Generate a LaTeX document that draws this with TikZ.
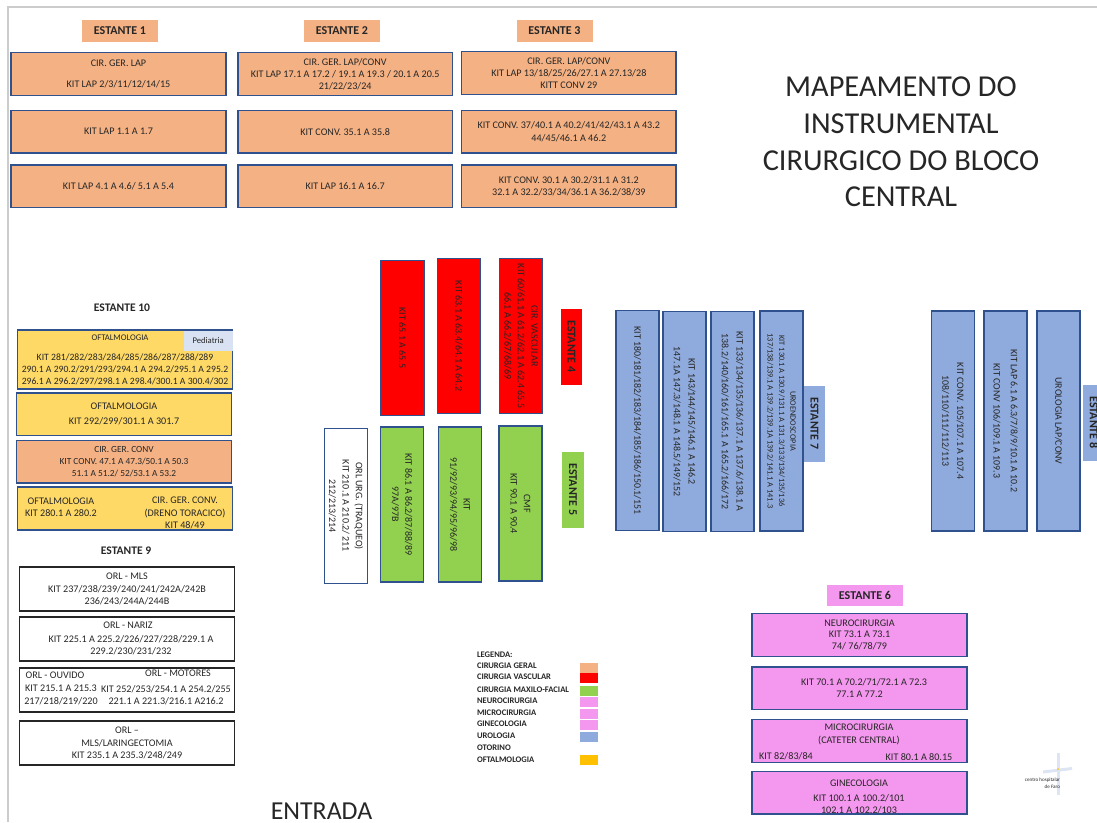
\documentclass[tikz,border=0pt]{standalone}
\usepackage{fontspec}
\setmainfont{Carlito}
\usetikzlibrary{positioning}
\definecolor{cirgeral}{HTML}{F4B183}
\definecolor{oftalmo}{HTML}{FFD966}
\definecolor{cirvasc}{HTML}{FF0000}
\definecolor{cirmax}{HTML}{92D050}
\definecolor{neuro}{HTML}{F497EE}
\definecolor{uro}{HTML}{8FAADC}
\definecolor{oftleg}{HTML}{FFC000}
\definecolor{pedia}{HTML}{D9E2F3}
\definecolor{borda}{HTML}{2F528F}

\begin{document}
\begin{tikzpicture}[
  x=0.75pt,y=-0.75pt,
  every node/.style={font=\fontsize{7.6}{9.2}\selectfont,text=black!85,align=center,inner sep=0pt,outer sep=0pt},
  shelf/.style={draw=borda,line width=1.1pt,minimum width=161pt,minimum height=32pt},
  shelfk/.style={shelf,draw=black!85,minimum height=33pt},
  vshelf/.style={draw=borda,line width=1.1pt,rotate=-90,minimum width=116pt,minimum height=32.5pt,font=\fontsize{7.5}{10}\selectfont},
  ublue/.style={vshelf,fill=uro,minimum width=165pt,font=\fontsize{7.4}{11}\selectfont},
  tag/.style={font=\bfseries\fontsize{9}{10}\selectfont,minimum width=57pt,minimum height=16pt},
  vtag/.style={tag,rotate=-90},
  titlebold/.style={font=\bfseries\fontsize{8.7}{10}\selectfont},
  swatch/.style={minimum width=13pt,minimum height=7.5pt},
  legtxt/.style={anchor=west,font=\bfseries\fontsize{6.4}{7}\selectfont}
]

\clip (0,0) rectangle (1097,822);

% ============================================================
% page frame
% ============================================================

\draw[black!20,line width=1pt] (8,822) -- (8,7) -- (1097,7);

% ============================================================
% TOP: Estantes 1, 2 and 3
% ============================================================

\node[tag,fill=cirgeral] (E1) at (120,31) {ESTANTE 1};
\node[tag,fill=cirgeral] (E2) at (342,31) {ESTANTE 2};
\node[tag,fill=cirgeral] (E3) at (554.5,31) {ESTANTE 3};

\node[shelf,fill=cirgeral] (E1a) at (118.5,74) {CIR. GER. LAP\\[6pt]KIT LAP 2/3/11/12/14/15};
\node[shelf,fill=cirgeral,below=11.25pt of E1a] (E1b) {KIT LAP 1.1 A 1.7};
\node[shelf,fill=cirgeral,below=9pt of E1b] (E1c) {KIT LAP 4.1 A 4.6/ 5.1 A 5.4};

\node[shelf,fill=cirgeral,right=9pt of E1a] (E2a) {CIR. GER. LAP/CONV\\KIT LAP 17.1 A 17.2 / 19.1 A 19.3 / 20.1 A 20.5\\21/22/23/24};
\node[shelf,fill=cirgeral,below=11.25pt of E2a] (E2b) {KIT CONV. 35.1 A 35.8};
\node[shelf,fill=cirgeral,below=9pt of E2b] (E2c) {KIT LAP 16.1 A 16.7};

\node[shelf,fill=cirgeral,right=6.75pt of E2a,yshift=0.75pt] (E3a) {CIR. GER. LAP/CONV\\KIT LAP 13/18/25/26/27.1 A 27.13/28\\KITT CONV 29};
\node[shelf,fill=cirgeral,right=6.75pt of E2b] (E3b) {KIT CONV. 37/40.1 A 40.2/41/42/43.1 A 43.2\\44/45/46.1 A 46.2};
\node[shelf,fill=cirgeral,right=6.75pt of E2c] (E3c) {KIT CONV. 30.1 A 30.2/31.1 A 31.2\\32.1 A 32.2/33/34/36.1 A 36.2/38/39};

% title
\node[font=\fontsize{22.8}{27.5}\selectfont] (titulo) at (901,142) {MAPEAMENTO DO\\INSTRUMENTAL\\CIRURGICO DO BLOCO\\CENTRAL};

% ============================================================
% LEFT: Estante 10
% ============================================================

\node[titlebold] (E10) at (122,308) {ESTANTE 10};

\node[shelf,fill=oftalmo,minimum height=44pt] (E10a) at (125,359.5) {};
\node[fill=pedia,minimum width=36.5pt,minimum height=15.5pt,anchor=north east,font=\fontsize{6.5}{8}\selectfont] (pedia) at (232.5,330.5) {Pediatria};
\node[font=\fontsize{6.5}{8}\selectfont] (E10at) at (120,338) {OFTALMOLOGIA};
\node[font=\fontsize{7.25}{9}\selectfont] (E10ak) at (125,369) {KIT 281/282/283/284/285/286/287/288/289\\290.1 A 290.2/291/293/294.1 A 294.2/295.1 A 295.2\\296.1 A 296.2/297/298.1 A 298.4/300.1 A 300.4/302};

\node[shelf,fill=oftalmo,below=3pt of E10a,xshift=-0.75pt] (E10b) {OFTALMOLOGIA\\[2pt]KIT 292/299/301.1 A 301.7};
\node[shelf,fill=cirgeral,below=3.75pt of E10b,font=\fontsize{7}{9.2}\selectfont] (E10c) {CIR. GER. CONV\\KIT CONV. 47.1 A 47.3/50.1 A 50.3\\51.1 A 51.2/ 52/53.1 A 53.2};
\node[shelf,fill=oftalmo,below=3pt of E10c,xshift=0.75pt] (E10d) {};
\node (E10dl) at (61,507.5) {OFTALMOLOGIA\\KIT 280.1 A 280.2};
\node (E10dr) at (185,513) {CIR. GER. CONV.\\(DRENO TORACICO)\\KIT 48/49};

% ============================================================
% LEFT: Estante 9
% ============================================================

\node[titlebold] (E9) at (126,551) {ESTANTE 9};

\node[shelfk] (E9a) at (127,589) {ORL - MLS\\KIT 237/238/239/240/241/242A/242B\\236/243/244A/244B};
\node[shelfk,below=4.5pt of E9a] (E9b) {};
\node (E9bt) at (128,625) {ORL - NARIZ};
\node (E9bk) at (131,645.5) {KIT 225.1 A 225.2/226/227/228/229.1 A\\229.2/230/231/232};
\node[shelfk,below=5.25pt of E9b] (E9c) {};
\node (E9ct1) at (55,675) {ORL - OUVIDO};
\node (E9ct2) at (178,673) {ORL - MOTORES};
\node (E9ck1) at (61,695) {KIT 215.1 A 215.3\\217/218/219/220};
\node (E9ck2) at (166,695) {KIT 252/253/254.1 A 254.2/255\\221.1 A 221.3/216.1 A216.2};
\node[shelfk,below=6.75pt of E9c] (E9d) {ORL --\\MLS/LARINGECTOMIA\\KIT 235.1 A 235.3/248/249};

% ============================================================
% CENTER: Estantes 4 and 5
% ============================================================

\node[vshelf,fill=cirvasc] (E4a) at (402.5,338) {KIT 65.1 A 65.5};
\node[vshelf,fill=cirvasc] (E4b) at (459,336) {KIT 63.1 A 63.4/64.1 A 64.2};
\node[vshelf,fill=cirvasc] (E4c) at (521,336) {CIR. VASCULAR\\KIT 60/61.1 A 61.2/62.1 A 62.4 65.5\\66.1 A 66.2/67/68/69};
\node[vtag,fill=cirvasc] (E4) at (571.5,346.5) {ESTANTE 4};

\node[vshelf,fill=cirmax] (E5a) at (402,504.5) {KIT 86.1 A 86.2/87/88/89\\97A/97B};
\node[vshelf,fill=cirmax] (E5b) at (460,504.5) {KIT\\91/92/93/94/95/96/98};
\node[vshelf,fill=cirmax] (E5c) at (520.5,503.5) {CMF\\KIT 90.1 A 90.4};
\node[vtag,fill=cirmax] (E5) at (573,489.5) {ESTANTE 5};

\node[vshelf,fill=white] (orl) at (346,506) {ORL URG. (TRAQUEO)\\KIT 210.1 A 210.2/ 211\\212/213/214};

% ============================================================
% RIGHT: Estantes 7 and 8
% ============================================================

\node[ublue] (E7a) at (637.5,420.5) {KIT 180/181/182/183/184/185/186/150.1/151};
\node[ublue] (E7b) at (684.5,421.5) {KIT 143/144/145/146.1 A 146.2\\147.1A 147.3/148.1 A 148.5/149/152};
\node[ublue] (E7c) at (732.5,421.5) {KIT 133/134/135/136/137.1 A 137.6/138.1 A\\138.2/140/160/161/165.1 A 165.2/166/172};
\node[ublue,font=\fontsize{6.2}{8.6}\selectfont] (E7d) at (781.5,421) {UROENDOSCOPIA\\KIT 130.1 A 130.9/131.1 A 131.3/133/134/135/136\\137/138/139.1 A 139.2/139.1A 139.2/141.1 A 141.3};
\node[vtag,fill=uro] (E7) at (814.5,423.5) {ESTANTE 7};

\node[ublue] (E8a) at (953,421) {KIT CONV. 105/107.1 A 107.4\\108/110/111/112/113};
\node[ublue] (E8b) at (1005.5,421) {KIT LAP 6.1 A 6.3/7/8/9/10.1 A 10.2\\[2pt]KIT CONV 106/109.1 A 109.3};
\node[ublue] (E8c) at (1058.5,421) {UROLOGIA LAP/CONV};
\node[vtag,fill=uro] (E8) at (1094,422.5) {ESTANTE 8};

% ============================================================
% LEGEND
% ============================================================

\node[legtxt] (leg0) at (477,655) {LEGENDA:};
\node[legtxt] (leg1) at (477,665.5) {CIRURGIA GERAL};
\node[legtxt] (leg2) at (477,677) {CIRURGIA VASCULAR};
\node[legtxt] (leg3) at (477,690) {CIRURGIA MAXILO-FACIAL};
\node[legtxt] (leg4) at (477,701) {NEUROCIRURGIA};
\node[legtxt] (leg5) at (477,712.5) {MICROCIRURGIA};
\node[legtxt] (leg6) at (477,724) {GINECOLOGIA};
\node[legtxt] (leg7) at (477,736) {UROLOGIA};
\node[legtxt] (leg8) at (477,748) {OTORINO};
\node[legtxt] (leg9) at (477,759.5) {OFTALMOLOGIA};

\node[swatch,fill=cirgeral] (sw1) at (589,667.5) {};
\node[swatch,fill=cirvasc] (sw2) at (589,678) {};
\node[swatch,fill=cirmax] (sw3) at (589,690.5) {};
\node[swatch,fill=neuro] (sw4) at (589,702) {};
\node[swatch,fill=neuro] (sw5) at (589,713.5) {};
\node[swatch,fill=neuro] (sw6) at (589,725) {};
\node[swatch,fill=uro] (sw7) at (589,737) {};
\node[swatch,fill=oftleg] (sw9) at (589,760) {};

% ============================================================
% BOTTOM RIGHT: Estante 6
% ============================================================

\node[tag,fill=neuro] (E6) at (865,595.5) {ESTANTE 6};

\node[shelf,fill=neuro] (E6a) at (859.5,635) {NEUROCIRURGIA\\[-1.5pt]KIT 73.1 A 73.1\\74/ 76/78/79};
\node[shelf,fill=neuro,below=8pt of E6a] (E6b) {\hspace*{7pt}KIT 70.1 A 70.2/71/72.1 A 72.3\\77.1 A 77.2};
\node[shelf,fill=neuro,below=7.5pt of E6b] (E6c) {};
\node (E6ct) at (859,734.5) {MICROCIRURGIA\\(CATETER CENTRAL)};
\node (E6cl) at (786,756) {KIT 82/83/84};
\node (E6cr) at (919,757) {KIT 80.1 A 80.15};
\node[shelf,fill=neuro,below=6.75pt of E6c] (E6d) {};
\node (E6dt) at (859,783) {GINECOLOGIA};
\node (E6dk) at (859,804.5) {KIT 100.1 A 100.2/101\\102.1 A 102.2/103};

% logo
\fill[uro!30] (1056.5,753) rectangle (1059.5,795);
\fill[uro!30] (1043,770.5) -- (1072,767) -- (1072,770) -- (1043,773.5) -- cycle;
\fill[oftleg] (1058,769) circle[radius=1];
\node[font=\fontsize{3.8}{5.6}\selectfont,align=right,anchor=east] (logo) at (1060,783) {centro hospitalar\\de Faro};

% entrance
\node[font=\fontsize{19.4}{22}\selectfont] (entrada) at (321.5,811) {ENTRADA};

\end{tikzpicture}
\end{document}
